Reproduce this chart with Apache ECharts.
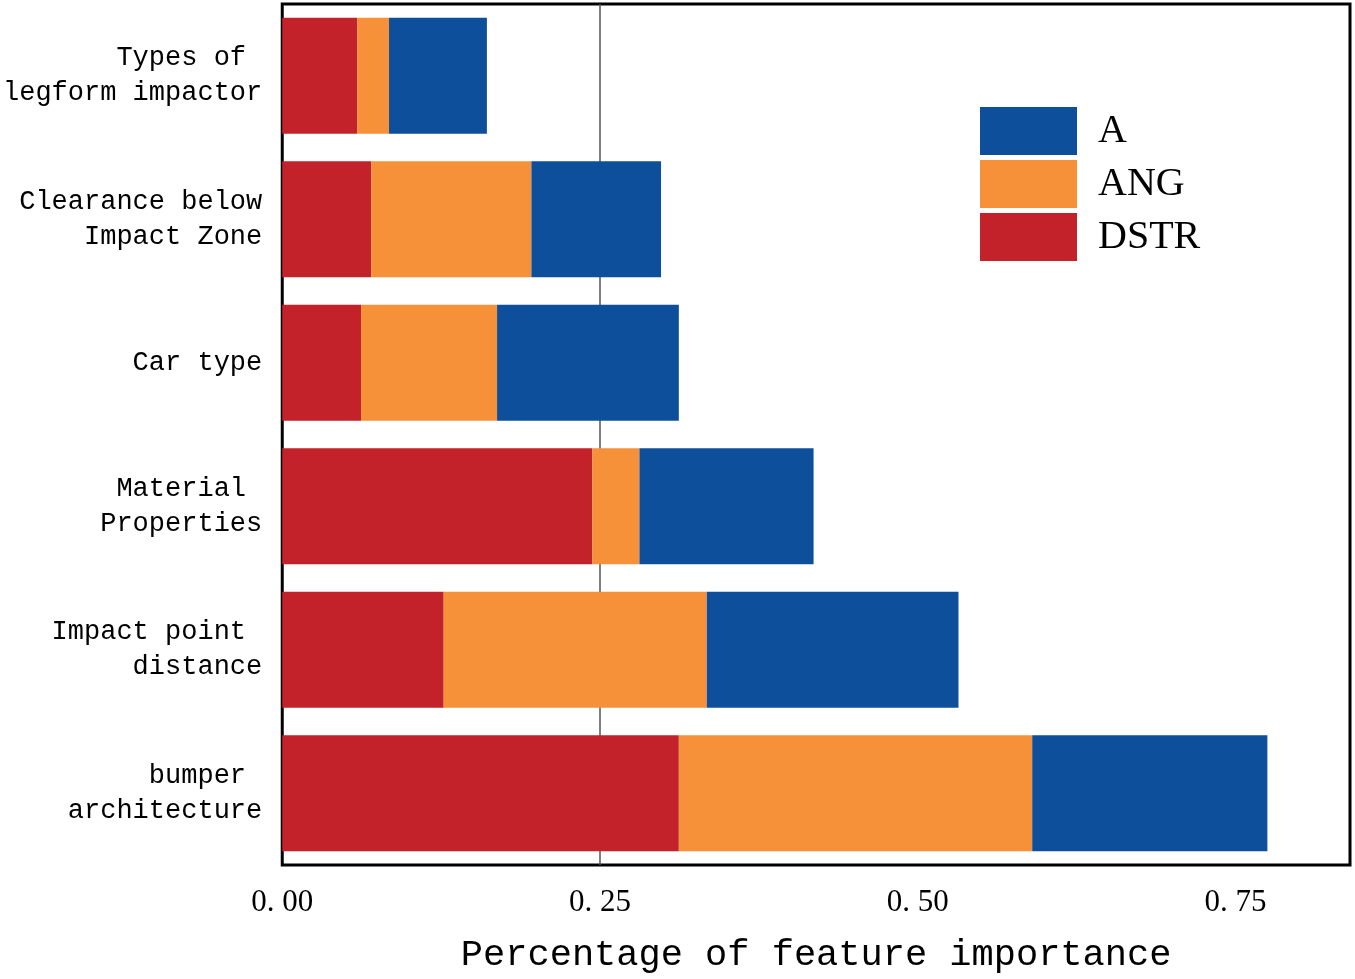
<!DOCTYPE html>
<html>
<head>
<meta charset="utf-8">
<script src="https://cdn.jsdelivr.net/npm/echarts@6/dist/echarts.min.js"></script>
<style>html,body{margin:0;padding:0;background:#fff;}#chart{width:1355px;height:979px;}</style>
</head>
<body>
<div id="chart"></div>
<script>
const categories = ['Types of \nlegform impactor', 'Clearance below\nImpact Zone', 'Car type', 'Material \nProperties', 'Impact point \ndistance', 'bumper \narchitecture'];
const dstrValues = [0.059, 0.070, 0.062, 0.244, 0.127, 0.312];
const angValues  = [0.025, 0.126, 0.107, 0.037, 0.207, 0.278];
const aValues    = [0.077, 0.102, 0.143, 0.137, 0.198, 0.185];
const xTicks = [0, 0.25, 0.5, 0.75];
const refLine = 0.25;

const chart = echarts.init(document.getElementById('chart'));
const mono = '"Liberation Mono", "DejaVu Sans Mono", monospace';
const serif = '"Liberation Serif", "DejaVu Serif", serif';
const barCommon = { type: 'bar', stack: 'total', barCategoryGap: '19%', z: 10 };
chart.setOption({
  animation: false,
  backgroundColor: '#fff',
  grid: { left: 282, right: 5, top: 4, bottom: 113, show: true, borderColor: '#000', borderWidth: 3, backgroundColor: 'transparent' },
  legend: {
    data: ['A', 'ANG', 'DSTR'],
    orient: 'vertical', left: 975, top: 102,
    itemWidth: 97, itemHeight: 48, itemGap: 5,
    icon: 'rect',
    textStyle: { fontFamily: serif, fontSize: 40, color: '#000', padding: [0, 0, 0, 16] }
  },
  xAxis: {
    type: 'value', min: 0, max: 0.84, interval: 0.25,
    axisLine: { show: false }, axisTick: { show: false }, splitLine: { show: false },
    axisLabel: {
      showMaxLabel: false, margin: 22, color: '#000', fontFamily: serif, fontSize: 31,
      formatter: v => xTicks.some(t => Math.abs(t - v) < 1e-9) ? v.toFixed(2).replace('.', '. ') : ''
    },
    name: 'Percentage of feature importance', nameLocation: 'middle', nameGap: 72,
    nameTextStyle: { fontFamily: mono, fontSize: 37, color: '#000' }
  },
  yAxis: {
    type: 'category', inverse: true, data: categories,
    axisLine: { show: false }, axisTick: { show: false }, splitLine: { show: false },
    axisLabel: { margin: 20, color: '#000', fontFamily: mono, fontSize: 27, lineHeight: 35, align: 'right', padding: [10, 0, 0, 0] }
  },
  series: [
    Object.assign({ name: 'DSTR', data: dstrValues, itemStyle: { color: '#C4222A' } }, barCommon),
    Object.assign({ name: 'ANG', data: angValues, itemStyle: { color: '#F6913A' } }, barCommon),
    Object.assign({ name: 'A', data: aValues, itemStyle: { color: '#0E4F9C' } }, barCommon),
    {
      name: 'ref', type: 'line', data: [], z: 1, silent: true,
      markLine: {
        z: 1, silent: true, symbol: 'none', label: { show: false },
        lineStyle: { color: '#555', width: 1.5, type: 'solid' },
        data: [{ xAxis: refLine }]
      }
    }
  ]
});
</script>
</body>
</html>
